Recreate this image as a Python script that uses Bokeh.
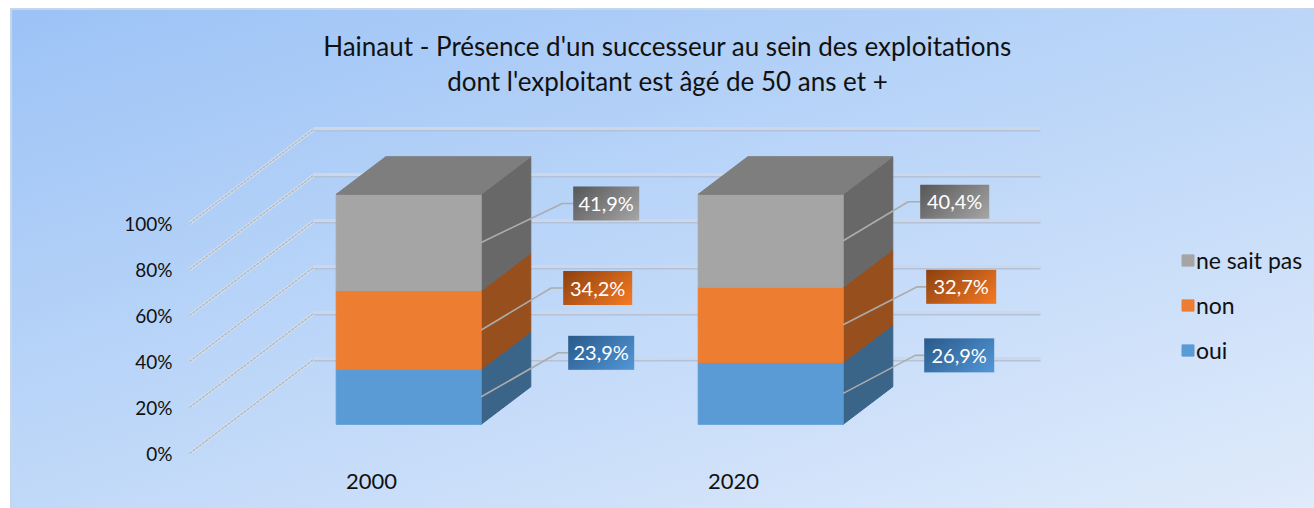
from bokeh.embed import file_html
from bokeh.resources import INLINE
from bokeh.plotting import figure
from bokeh.models import (Legend, LegendItem, LinearAxis, FixedTicker)
from bokeh.core.properties import value
import numpy as np

# ---- data ----
years = ["2000", "2020"]
oui = [23.9, 26.9]
non = [34.2, 32.7]
nsp = [41.9, 40.4]
labels_oui = ["23,9%", "26,9%"]
labels_non = ["34,2%", "32,7%"]
labels_nsp = ["41,9%", "40,4%"]
series_names = ["oui", "non", "ne sait pas"]
y_ticks = [0, 20, 40, 60, 80, 100]
title_lines = ["Hainaut - Présence d'un successeur au sein des exploitations",
               "dont l'exploitant est âgé de 50 ans et +"]

# ---- projection of the 3D look: x in page px, y in percent on the front plane ----
PX = 2.3                # pixels per percent
DEPTH_X, DEPTH_Y = 124, 94 / PX   # floor depth
WALL_LEFT, WALL_RIGHT = 189, 916  # extent of the front plane
cat_x = [371, 733]
HALF = 72.5
D0, D1 = 0.30, 0.70     # the bar's depth inside the floor
LIFT = 1 / PX           # bars sit one pixel above the floor projection
FONT = "Lato"

def proj(x, v, d):
    return x + DEPTH_X * d, v + DEPTH_Y * d

front = {"fill": ["#5B9BD5", "#ED7D31", "#A5A5A5"],
         "side": ["#3A6488", "#974F1D", "#686868"],
         "grad0": [(0x2B, 0x5B, 0x8B), (0x8E, 0x42, 0x10), (0x58, 0x58, 0x58)],
         "grad1": [(0x52, 0x97, 0xD8), (0xF6, 0x7A, 0x24), (0xA6, 0xA6, 0xA6)]}

p = figure(width=1314, height=508, x_range=(0, 1314),
           y_range=((453 - 508) / PX, 453 / PX),
           output_backend="svg", toolbar_location=None, min_border=0,
           x_axis_location=None, y_axis_location=None,
           background_fill_alpha=0, border_fill_alpha=0, outline_line_alpha=0)
p.grid.visible = False
p.styles = {
    "background": "linear-gradient(162deg, #9BC2F6 0%, #B8D4F8 42%, #E0EBFB 100%)",
    "box-shadow": "inset 10px 8px 0 #FFFFFF, inset 12px 10px 0 #C6D5EA",
}

# ---- walls ----
for v in y_ticks:
    x0, y0 = WALL_LEFT, v
    x1, y1 = proj(WALL_LEFT, v, 1)
    x2, y2 = proj(WALL_RIGHT, v, 1)
    p.line([x1, x2], [y1 - 1 / PX, y2 - 1 / PX], line_color="#B2C2DA", line_width=2)
    p.line([x1, x2], [y1 + 1 / PX, y2 + 1 / PX], line_color="#CCD8E9", line_width=3)
    p.line([x0, x1], [y0, y1], line_color="#D6DEE9", line_width=3.5, line_alpha=0.8)
    p.line([x0, x1], [y0, y1], line_color="#AEB6C2", line_width=1.3, line_dash="3 1")

# ---- bars ----
stack = np.cumsum(np.array([oui, non, nsp]), axis=0)
bottoms = np.vstack([np.zeros(2), stack[:-1]])
front_renderers = []
for s in range(3):
    left = [proj(c - HALF, 0, D0)[0] for c in cat_x]
    right = [proj(c + HALF, 0, D0)[0] for c in cat_x]
    bot = [proj(0, b, D0)[1] + LIFT for b in bottoms[s]]
    top = [proj(0, t, D0)[1] + LIFT for t in stack[s]]
    xs, ys = [], []
    for i in range(2):
        bx, by = proj(cat_x[i] + HALF, bottoms[s][i], D1)
        tx, ty = proj(cat_x[i] + HALF, stack[s][i], D1)
        xs.append([right[i], bx, tx, right[i]])
        ys.append([bot[i], by + LIFT, ty + LIFT, top[i]])
    p.patches(xs, ys, fill_color=front["side"][s], line_color=front["side"][s], line_width=1)
    r = p.quad(left=left, right=right, bottom=bot, top=top,
               fill_color=front["fill"][s], line_color=front["fill"][s], line_width=1)
    front_renderers.append(r)
# top faces
txs, tys = [], []
for i in range(2):
    c, t = cat_x[i], stack[2][i]
    a = proj(c - HALF, t, D0); b = proj(c + HALF, t, D0)
    e = proj(c + HALF, t, D1); f = proj(c - HALF, t, D1)
    txs.append([a[0], b[0], e[0], f[0]])
    tys.append([a[1] + LIFT, b[1] + LIFT, e[1] + LIFT, f[1] + LIFT])
p.patches(txs, tys, fill_color="#7E7E7E", line_color="#7E7E7E", line_width=1)

# ---- data labels: leader and gradient box, offset from the middle of each segment ----
# offsets in px: elbow (dx, dy), box (left gap, width), for each series / year
elbow = {0: [(77, -44), (72, -38)], 1: [(70, -42), (74, -38)], 2: [(81, -39), (65, -39)]}
box_l = {0: [87, 81], 1: [82, 83], 2: [92, 77]}
box_w = {0: [66, 70], 1: [69, 70], 2: [66, 69]}
texts = [labels_oui, labels_non, labels_nsp]
for s in range(3):
    for i in range(2):
        mid = (bottoms[s][i] + stack[s][i]) / 2
        sx, sy = proj(cat_x[i] + HALF, mid, D0)
        sy += LIFT
        ex, ey = sx + elbow[s][i][0], sy - elbow[s][i][1] / PX
        bl = sx + box_l[s][i]
        w = box_w[s][i]
        p.line([sx, ex, bl], [sy, ey, ey], line_color="#ACACAC", line_width=1.6)
        nx, ny = 48, 16
        gx, gy = np.meshgrid(np.linspace(0, 1, nx), np.linspace(1, 0, ny))
        t = (gx * 0.65 + gy * 0.35)
        img = np.zeros((ny, nx), dtype=np.uint32)
        rgba = img.view(dtype=np.uint8).reshape((ny, nx, 4))
        for ch in range(3):
            rgba[:, :, ch] = front["grad0"][s][ch] + (front["grad1"][s][ch] - front["grad0"][s][ch]) * t
        rgba[:, :, 3] = 255
        h = 34 / PX
        p.image_rgba(image=[img], x=[bl], y=[ey - h / 2], dw=[w], dh=[h])
        p.text(x=[bl + w / 2], y=[ey + 0.5 / PX], text=[texts[s][i]], text_color="#FFFFFF",
               text_font=value(FONT), text_font_size="20px",
               text_align="center", text_baseline="middle")

# ---- axes, with the library's tick labels ----
yax = LinearAxis(fixed_location=WALL_LEFT - 17, ticker=FixedTicker(ticks=y_ticks),
                 major_label_overrides={v: f"{v}%" for v in y_ticks},
                 axis_line_alpha=0, major_tick_line_alpha=0, minor_tick_line_alpha=0,
                 major_tick_in=0, major_tick_out=0, minor_tick_out=0, minor_tick_in=0,
                 major_label_standoff=0, major_label_text_font=FONT,
                 major_label_text_font_size="19px", major_label_text_color="#111111")
p.add_layout(yax, "left")
xax = LinearAxis(fixed_location=0, ticker=FixedTicker(ticks=cat_x),
                 major_label_overrides={c: y for c, y in zip(cat_x, years)},
                 axis_line_alpha=0, major_tick_line_alpha=0, minor_tick_line_alpha=0,
                 major_tick_in=0, major_tick_out=0, minor_tick_out=0, minor_tick_in=0,
                 major_label_standoff=20, major_label_text_font=FONT,
                 major_label_text_font_size="22px", major_label_text_color="#111111")
p.add_layout(xax, "below")

# ---- title ----
for line, py in zip(title_lines, (45, 80)):
    p.text(x=[667], y=[(453 - py) / PX], text=[line], text_color="#111111",
           text_font=value(FONT), text_font_size="26px",
           text_align="center", text_baseline="middle")

# ---- legend ----
items = [LegendItem(label=series_names[k], renderers=[front_renderers[k]]) for k in (2, 1, 0)]
legend = Legend(items=items, location=(1180, 144), orientation="vertical",
                background_fill_alpha=0, border_line_alpha=0, padding=0, margin=0,
                spacing=17, glyph_width=15, glyph_height=14, label_standoff=1,
                label_text_font=FONT, label_text_font_size="23px", label_text_color="#111111",
                label_height=23)
p.add_layout(legend, "center")

open("out.html", "w").write(file_html(p, INLINE))
